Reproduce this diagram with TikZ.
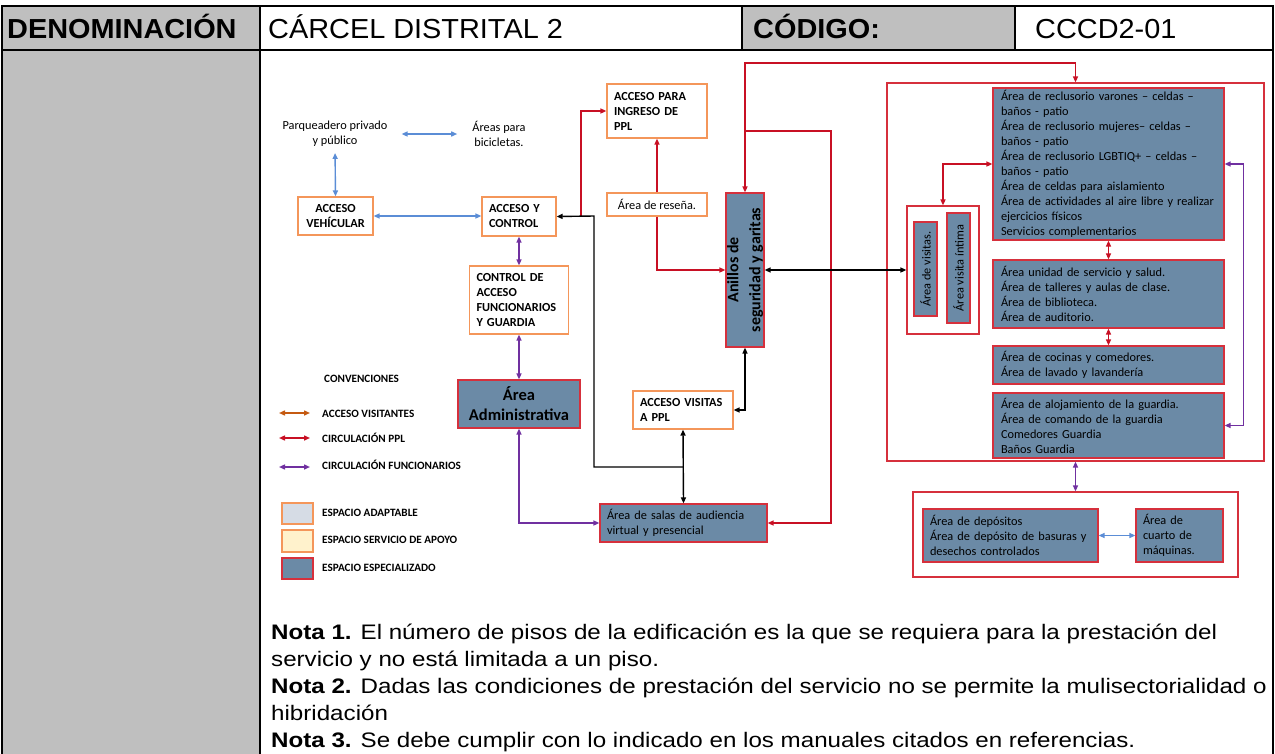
\documentclass[tikz,border=0pt]{standalone}
\usepackage{fontspec}
\setmainfont{Carlito}
\newfontfamily\notefont[FakeStretch=1.15]{Liberation Sans}
\newfontfamily\headfont[FakeStretch=1.05]{Liberation Sans}
\usetikzlibrary{arrows.meta}

\definecolor{tablegray}{RGB}{191,191,191}
\definecolor{slate}{RGB}{107,138,166}
\definecolor{boxred}{RGB}{214,48,60}
\definecolor{boxorange}{RGB}{244,150,90}
\definecolor{arrowred}{RGB}{200,16,36}
\definecolor{arrowblue}{RGB}{91,141,214}
\definecolor{arrowpurple}{RGB}{112,48,160}
\definecolor{arroworange}{RGB}{197,90,17}
\definecolor{adaptable}{RGB}{214,220,229}
\definecolor{apoyo}{RGB}{255,242,204}

\newcommand\diasize{\fontsize{12.3}{15}\selectfont}
\newcommand\legsize{\fontsize{11.2}{13}\selectfont\bfseries}

\begin{document}
\begin{tikzpicture}[x=1pt, y=-1pt,
    >={Triangle[length=6pt,width=5pt]},
    every node/.style={font=\diasize, inner sep=0pt},
    orangebox/.style={draw=boxorange, line width=1.2pt, fill=white, inner xsep=7pt, font={\diasize\bfseries}},
    specbox/.style={draw=boxred, line width=1.2pt, fill=slate, inner xsep=7pt},
    areabox/.style={draw=boxred, line width=1.2pt, fill=white},
    bluearrow/.style={draw=arrowblue, line width=1.4pt, <->},
    redarrow/.style={draw=arrowred, line width=1.4pt},
    purplearrow/.style={draw=arrowpurple, line width=1.4pt, <->},
    blackarrow/.style={draw=black, line width=1.4pt},
    legtext/.style={anchor=base west, font=\legsize},
    notetext/.style={anchor=base west, font={\notefont\fontsize{21}{27}\selectfont}},
    headtext/.style={anchor=base west, font={\headfont\fontsize{27.5}{30}\selectfont}}]

  \useasboundingbox (0,0) rectangle (1275,753);

  % ficha
  \fill[tablegray] (2,6) rectangle (260,50);
  \fill[tablegray] (742,6) rectangle (1015,50);
  \fill[tablegray] (2,50) rectangle (260,760);
  \draw[line width=2.5pt] (2,6) rectangle (1273,760);
  \draw[line width=2.5pt] (2,50) -- (1273,50);
  \draw[line width=2.5pt] (260,6) -- (260,760);
  \draw[line width=2.5pt] (742,6) -- (742,50);
  \draw[line width=2.5pt] (1015,6) -- (1015,50);

  \node[headtext] (denom) at (7,38) {\bfseries DENOMINACIÓN};
  \node[headtext] (nombre) at (268,38) {CÁRCEL DISTRITAL 2};
  \node[headtext] (codlabel) at (753,38) {\bfseries CÓDIGO:};
  \node[headtext] (codigo) at (1035,38) {CCCD2-01};

  % recintos
  \node[areabox, minimum width=377pt, minimum height=378pt] (recinto) at (1075.5,272) {};
  \node[areabox, minimum width=72pt, minimum height=128pt] (visitcont) at (943,270) {};
  \node[areabox, minimum width=325pt, minimum height=85pt] (lowcont) at (1075.5,534.5) {};

  % accesos
  \node[align=center] (parq) at (335,134) {Parqueadero privado\\y público};
  \node[align=center] (bici) at (499,134) {Áreas para\\bicicletas.};
  \node[orangebox, align=center, inner xsep=0pt, minimum width=75pt, minimum height=38pt] (vehic) at (335.5,216) {ACCESO\\VEHÍCULAR};
  \node[orangebox, align=left, text width=60pt, minimum height=39pt] (acctrl) at (519,216.5) {ACCESO Y\\CONTROL};
  \node[orangebox, align=left, text width=85pt, minimum height=68pt] (ctrlacc) at (519,300) {CONTROL DE\\ACCESO\\FUNCIONARIOS\\Y GUARDIA};
  \node[specbox, align=center, inner xsep=0pt, minimum width=122pt, minimum height=48pt, font={\fontsize{16.5}{20}\selectfont\bfseries}] (admin) at (519,404) {Área\\Administrativa};
  \node[orangebox, align=left, text width=86pt, minimum height=54pt] (ingreso) at (657,111) {ACCESO PARA\\INGRESO DE\\PPL};
  \node[orangebox, font=\diasize, inner xsep=0pt, minimum width=100pt, minimum height=23pt] (resena) at (657,204.5) {Área de reseña.};
  \node[specbox, minimum width=38pt, minimum height=154pt] (anillos) at (745,270) {};
  \node[rotate=90, align=center, font={\fontsize{16}{22}\selectfont\bfseries}] (anillostxt) at (anillos.center) {Anillos de\\seguridad y garitas};
  \node[orangebox, align=left, text width=86pt, minimum height=38pt] (visitasppl) at (683,410) {ACCESO VISITAS\\A PPL};
  \node[specbox, align=left, text width=153pt, minimum height=38pt] (salas) at (683.5,523) {Área de salas de audiencia\\virtual y presencial};

  % visitas
  \node[specbox, inner xsep=0pt, minimum width=23pt, minimum height=94pt] (visitas) at (925.5,269) {};
  \node[rotate=90] (visitastxt) at (visitas.center) {Área de visitas.};
  \node[specbox, inner xsep=0pt, minimum width=23pt, minimum height=110pt] (intima) at (958.5,268) {};
  \node[rotate=90] (intimatxt) at (intima.center) {Área visita íntima};

  % areas internas
  \node[specbox, align=left, inner xsep=8pt, text width=215pt, minimum height=152pt] (reclus) at (1108.5,164) {Área de reclusorio varones – celdas –\\baños - patio\\Área de reclusorio mujeres– celdas –\\baños - patio\\Área de reclusorio LGBTIQ+ – celdas –\\baños - patio\\Área de celdas para aislamiento\\Área de actividades al aire libre y realizar\\ejercicios físicos\\Servicios complementarios};
  \node[specbox, align=left, inner xsep=8pt, text width=215pt, minimum height=68pt] (unidad) at (1108.5,294) {Área unidad de servicio y salud.\\Área de talleres y aulas de clase.\\Área de biblioteca.\\Área de auditorio.};
  \node[specbox, align=left, inner xsep=8pt, text width=215pt, minimum height=38pt] (cocinas) at (1108.5,365) {Área de cocinas y comedores.\\Área de lavado y lavandería};
  \node[specbox, align=left, inner xsep=8pt, text width=215pt, minimum height=65pt] (guardia) at (1108.5,425.5) {Área de alojamiento de la guardia.\\Área de comando de la guardia\\Comedores Guardia\\Baños Guardia};
  \node[specbox, align=left, text width=161pt, minimum height=53pt] (deposit) at (1010.5,535.5) {Área de depósitos\\Área de depósito de basuras y\\desechos controlados};
  \node[specbox, align=left, text width=73pt, minimum height=53pt] (maquinas) at (1179.5,535.5) {Área de\\cuarto de\\máquinas.};

  % circulaciones
  \coordinate (rj) at (581,216);
  \coordinate (rtop) at (745,63);
  \coordinate (rbranch) at (745,131);
  \coordinate (rdown) at (831,300);
  \coordinate (bj) at (683,467);
  \coordinate (bk) at (594,216);

  \draw[bluearrow, shorten <=14pt, shorten >=15pt] (parq.east) -- (bici.west);
  \draw[bluearrow, shorten <=6pt] (parq.south) -- (vehic.north);
  \draw[bluearrow] (vehic.east) -- (vehic.east -| acctrl.west);
  \draw[bluearrow] (deposit.east) -- (maquinas.west);

  \draw[purplearrow] (acctrl.south) -- (ctrlacc.north);
  \draw[purplearrow] (ctrlacc.south) -- (admin.north);
  \draw[purplearrow] (admin.south) |- (salas.west);
  \draw[purplearrow] (reclus.east) -- ++(19,0) |- (guardia.east);
  \draw[purplearrow] (recinto.south) -- (lowcont.north);

  \draw[redarrow, ->] (rj) |- (ingreso.west);
  \draw[redarrow, ->] (resena.north) -- (ingreso.south);
  \draw[redarrow, ->] (resena.south) |- (anillos.west);
  \draw[redarrow, <->] (anillos.north) -- (rtop) -| (recinto.north);
  \draw[redarrow, ->] (rbranch) -| (rdown) |- (salas.east);
  \draw[redarrow, <->] (reclus.west) -| (visitcont.north);
  \draw[redarrow, <->] (reclus.south) -- (unidad.north);
  \draw[redarrow, <->] (unidad.south) -- (cocinas.north);

  \draw[blackarrow, <->] (anillos.east) -- (visitcont.west);
  \draw[blackarrow, ->] (bj) -| (bk) -- (acctrl.east);
  \draw[blackarrow, <->] (visitasppl.south) -- (salas.north);
  \draw[blackarrow, <->] (visitasppl.east) -| (anillos.south);

  % convenciones
  \node[legtext] (conv) at (324,382) {CONVENCIONES};
  \draw[draw=arroworange, line width=1.4pt, <->] (279,413) -- (310,413);
  \draw[draw=arrowred, line width=1.4pt, <->] (279,438) -- (310,438);
  \draw[draw=arrowpurple, line width=1.4pt, <->] (279,467) -- (310,467);
  \node[legtext] (legvis) at (322,417.5) {ACCESO VISITANTES};
  \node[legtext] (legppl) at (322,442.5) {CIRCULACIÓN PPL};
  \node[legtext] (legfun) at (322,469.5) {CIRCULACIÓN FUNCIONARIOS};

  \draw[draw=boxorange, fill=adaptable, line width=1.2pt] (282,503) rectangle (313,524);
  \draw[draw=boxorange, fill=apoyo, line width=1.2pt] (282,530) rectangle (313,552);
  \draw[draw=boxred, fill=slate, line width=1.2pt] (282,558) rectangle (313,579);
  \node[legtext] (legadapt) at (322,516.5) {ESPACIO ADAPTABLE};
  \node[legtext] (legapoyo) at (322,543.5) {ESPACIO SERVICIO DE APOYO};
  \node[legtext] (legespec) at (322,571.5) {ESPACIO ESPECIALIZADO};

  % notas
  \node[notetext] (nota1) at (271,639) {\textbf{Nota 1.} El número de pisos de la edificación es la que se requiera para la prestación del};
  \node[notetext] (nota1b) at (271,666) {servicio y no está limitada a un piso.};
  \node[notetext] (nota2) at (271,693) {\textbf{Nota 2.} Dadas las condiciones de prestación del servicio no se permite la mulisectorialidad o};
  \node[notetext] (nota2b) at (271,720) {hibridación};
  \node[notetext] (nota3) at (271,747) {\textbf{Nota 3.} Se debe cumplir con lo indicado en los manuales citados en referencias.};

\end{tikzpicture}
\end{document}
